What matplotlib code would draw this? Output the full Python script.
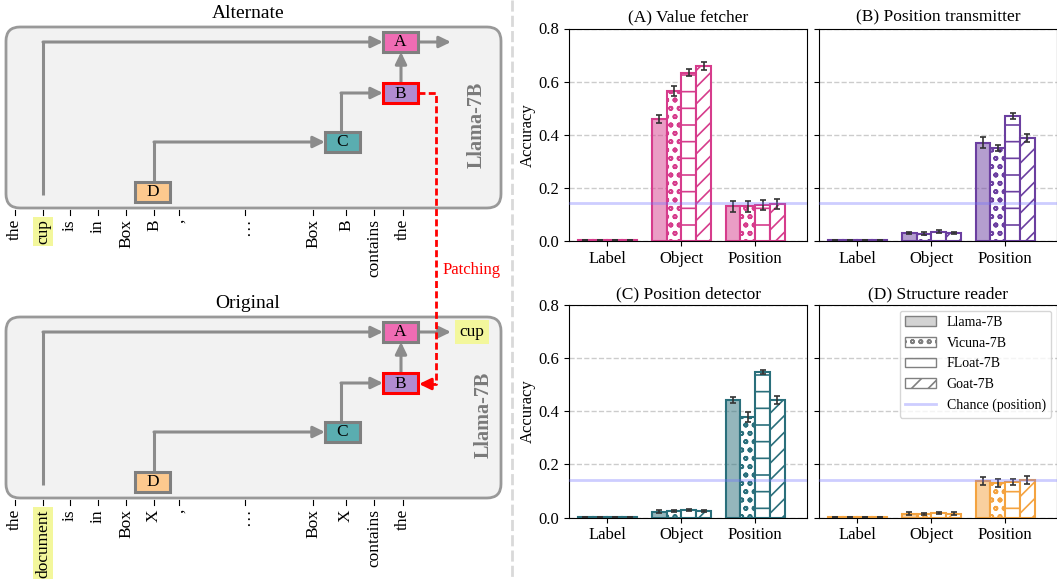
import numpy as np
import matplotlib
matplotlib.use('Agg')
import matplotlib.pyplot as plt
from matplotlib.patches import FancyBboxPatch, Rectangle, Patch
from matplotlib.lines import Line2D
from matplotlib.colors import to_rgba

plt.rcParams['font.family'] = 'serif'
plt.rcParams['font.serif'] = ['Liberation Serif', 'DejaVu Serif']
plt.rcParams['hatch.linewidth'] = 1.2

# ---- bar chart data ----
categories = ['Label', 'Object', 'Position']
models = ['Llama-7B', 'Vicuna-7B', 'FLoat-7B', 'Goat-7B']
titles = ['(A) Value fetcher', '(B) Position transmitter',
          '(C) Position detector', '(D) Structure reader']
chance = 1 / 7

# rows = categories, columns = models
value_fetcher = np.array([[0.002, 0.002, 0.002, 0.002],
                          [0.458, 0.565, 0.633, 0.660],
                          [0.130, 0.130, 0.135, 0.140]])
value_fetcher_err = np.array([[0, 0, 0, 0],
                              [0.015, 0.02, 0.013, 0.015],
                              [0.02, 0.02, 0.02, 0.02]])
position_transmitter = np.array([[0.002, 0.002, 0.002, 0.002],
                                 [0.030, 0.028, 0.035, 0.030],
                                 [0.370, 0.350, 0.470, 0.387]])
position_transmitter_err = np.array([[0, 0, 0, 0],
                                     [0.005, 0.007, 0.006, 0.005],
                                     [0.02, 0.01, 0.012, 0.015]])
position_detector = np.array([[0.002, 0.002, 0.002, 0.002],
                              [0.022, 0.024, 0.028, 0.025],
                              [0.442, 0.379, 0.549, 0.444]])
position_detector_err = np.array([[0, 0, 0, 0],
                                  [0.006, 0.005, 0.004, 0.004],
                                  [0.01, 0.02, 0.008, 0.015]])
structure_reader = np.array([[0.002, 0.002, 0.002, 0.002],
                             [0.015, 0.013, 0.016, 0.015],
                             [0.136, 0.131, 0.134, 0.141]])
structure_reader_err = np.array([[0, 0, 0, 0],
                                 [0.004, 0.004, 0.004, 0.004],
                                 [0.015, 0.015, 0.012, 0.015]])

panel_values = [value_fetcher, position_transmitter, position_detector, structure_reader]
panel_errors = [value_fetcher_err, position_transmitter_err, position_detector_err, structure_reader_err]
panel_colors = ['#d63c8c', '#6b3fa0', '#2a6f7b', '#f4a340']
hatches = ['', 'oo', '-', '//']

# ---- diagram tokens ----
alt_tokens = ['the', 'cup', 'is', 'in', 'Box', 'B', ',', '…', 'Box', 'B', 'contains', 'the']
orig_tokens = ['the', 'document', 'is', 'in', 'Box', 'X', ',', '…', 'Box', 'X', 'contains', 'the']
token_x = [15, 43, 70, 98, 126, 154, 179, 245, 313, 346, 374, 403]

fig = plt.figure(figsize=(10.57, 5.81), dpi=100)

# ================= left: diagram =================
dg = fig.add_axes([0, 0, 520 / 1057, 1])
dg.set_xlim(0, 520)
dg.set_ylim(581, 0)
dg.axis('off')

GRAY = '#8c8c8c'
node_colors = {'A': '#f06cb4', 'B': '#b18bd0', 'C': '#5aadb0', 'D': '#fdc98e'}
node_pos = {'A': (383, 32), 'B': (383, 83), 'C': (325, 132), 'D': (135, 182)}


def arrow(ax, x0, y0, x1, y1, color=GRAY, z=3):
    ax.annotate('', xy=(x1, y1), xytext=(x0, y0),
                arrowprops=dict(arrowstyle='-|>,head_length=0.35,head_width=0.17',
                                color=color, lw=2.2, mutation_scale=20,
                                shrinkA=0, shrinkB=0), zorder=z)


def draw_block(ax, oy, title, tokens, hl, llama_x, out_word=None):
    ax.text(248, oy + 13, title, fontsize=14, ha='center', va='center')
    ax.add_patch(FancyBboxPatch((6, oy + 27), 495, 181,
                                boxstyle='round,pad=0,rounding_size=14',
                                fc='#f2f2f2', ec='#999999', lw=2, zorder=1))
    ax.text(llama_x, oy + 125, 'Llama-7B', rotation=90, fontsize=14.5,
            fontweight='bold', color='#7a7a7a', ha='center', va='center', zorder=2)
    # arrows
    ax.plot([43, 43], [oy + 195, oy + 42], color=GRAY, lw=2.2, zorder=2, solid_capstyle='butt')
    arrow(ax, 43, oy + 42, 383, oy + 42)
    arrow(ax, 418, oy + 42, 451, oy + 42)
    arrow(ax, 401, oy + 83, 401, oy + 52)
    ax.plot([341, 341], [oy + 132, oy + 93], color=GRAY, lw=2.2, zorder=2)
    arrow(ax, 341, oy + 93, 383, oy + 93)
    ax.plot([154, 154], [oy + 182, oy + 142], color=GRAY, lw=2.2, zorder=2)
    arrow(ax, 154, oy + 142, 325, oy + 142)
    # nodes
    for name, (nx, ny) in node_pos.items():
        ec = 'red' if name == 'B' else '#7f7f7f'
        ax.add_patch(Rectangle((nx, oy + ny), 35, 20, fc=node_colors[name],
                               ec=ec, lw=2.2, zorder=4))
        ax.text(nx + 17.5, oy + ny + 10.5, name, fontsize=12.5, ha='center',
                va='center', zorder=5)
    if out_word:
        ax.text(472, oy + 42, out_word, fontsize=12.5, ha='center', va='center',
                bbox=dict(boxstyle='square,pad=0.25', fc='#f3f79c', ec='none'), zorder=5)
    # tokens
    for i, (tx, tok) in enumerate(zip(token_x, tokens)):
        ax.plot([tx, tx], [oy + 210, oy + 215], color='black', lw=0.8)
        kw = {}
        if i == hl:
            kw['bbox'] = dict(boxstyle='square,pad=0.1', fc='#f3f79c', ec='none')
        ax.text(tx, oy + 219, tok, rotation=90, fontsize=12.5, ha='center',
                va='top', **kw)


draw_block(dg, 0, 'Alternate', alt_tokens, 1, 477)
draw_block(dg, 290, 'Original', orig_tokens, 1, 484, out_word='cup')

# patching line
dg.plot([418, 436, 436, 426], [93, 93, 384, 384], color='red', lw=2,
        ls=(0, (2.5, 1.2)), zorder=6)
arrow(dg, 430, 384, 419, 384, color='red', z=6)
dg.text(472, 270, 'Patching', color='red', fontsize=12, ha='center', va='center')

# separator
dg.plot([512, 512], [0, 581], color='#d9d9d9', lw=2, ls=(0, (4, 1.5)), clip_on=False)

# ================= right: bar panels =================
positions = [[569, 28.5], [819, 28.5], [569, 305], [819, 305]]
W, H = 238, 212.5
x = np.arange(len(categories))
width = 0.2
for k in range(4):
    left, top = positions[k]
    ax = fig.add_axes([left / 1057, 1 - (top + H) / 581, W / 1057, H / 581])
    c = panel_colors[k]
    for i, m in enumerate(models):
        fc = to_rgba(c, 0.5) if i == 0 else 'white'
        ax.bar(x + (i - 1.5) * width, panel_values[k][:, i], width,
               yerr=panel_errors[k][:, i], facecolor=fc, edgecolor=c,
               hatch=hatches[i], lw=1.5, capsize=2.5, zorder=2,
               error_kw=dict(ecolor='#333333', elinewidth=1.2, capthick=1.2))
    ax.axhline(chance, color='#7070ff', alpha=0.35, lw=2, zorder=3)
    ax.set_xlim(-0.52, 2.7)
    ax.set_ylim(0, 0.8)
    ax.set_yticks([0, 0.2, 0.4, 0.6, 0.8])
    ax.set_xticks(x)
    ax.set_xticklabels(categories)
    ax.tick_params(labelsize=12)
    ax.grid(axis='y', ls='--', color='#cccccc', lw=1)
    ax.set_axisbelow(True)
    ax.set_title(titles[k], fontsize=12.5, pad=5)
    if k % 2 == 0:
        ax.set_ylabel('Accuracy', fontsize=12, labelpad=2)
    else:
        ax.tick_params(labelleft=False)
    if k == 3:
        handles = [Patch(facecolor='#d3d3d3', edgecolor='gray', label=models[0]),
                   Patch(facecolor='white', edgecolor='gray', hatch='oo', label=models[1]),
                   Patch(facecolor='white', edgecolor='gray', hatch='-', label=models[2]),
                   Patch(facecolor='white', edgecolor='gray', hatch='//', label=models[3]),
                   Line2D([0], [0], color='#7070ff', alpha=0.35, lw=2, label='Chance (position)')]
        ax.legend(handles=handles, loc='upper right', fontsize=10,
                  handlelength=2.2, labelspacing=0.55, borderaxespad=0.4)

fig.savefig('out.png', dpi=100)
